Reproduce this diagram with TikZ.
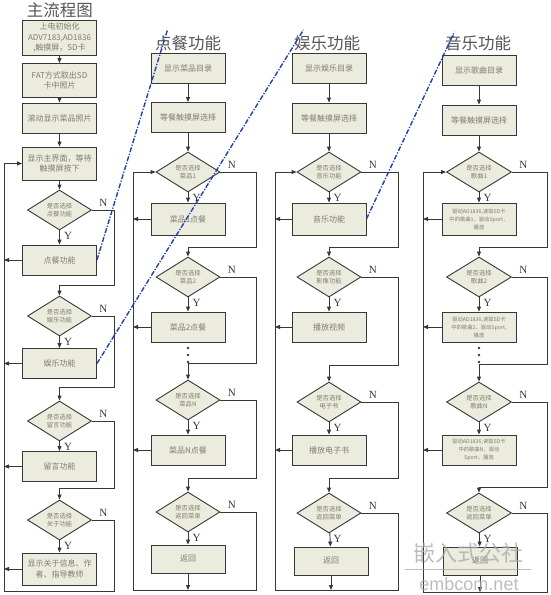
\documentclass[tikz,border=0pt]{standalone}
\usepackage{fontspec}
\setmainfont{Noto Sans CJK SC}
\newfontfamily\ynfont{Liberation Serif}
\newfontfamily\wmfont{Liberation Sans}
\usepackage{tikz}
\usetikzlibrary{arrows.meta,positioning,shapes.geometric}
\definecolor{bf}{RGB}{236,236,222}
\definecolor{lc}{RGB}{55,55,55}
\definecolor{tc}{RGB}{125,125,112}
\definecolor{lk}{RGB}{35,65,170}
\begin{document}
\begin{tikzpicture}[x=1pt, y=-1pt,
  box/.style={draw=lc, fill=bf, line width=0.9pt, minimum width=74pt, minimum height=30pt,
    align=center, inner sep=2pt, text=tc, font=\fontsize{8}{10.5}\selectfont},
  small/.style={box, minimum height=32pt, font=\fontsize{5.3}{8}\selectfont},
  dia/.style={diamond, draw=lc, fill=bf, line width=0.9pt, minimum width=64pt, minimum height=40pt,
    aspect=1.6, inner sep=0pt, align=center, text=tc, font=\fontsize{6.3}{8.5}\selectfont},
  ttl/.style={text=lc!85, font=\fontsize{16.5}{18}\selectfont},
  yn/.style={text=lc, font=\ynfont\fontsize{11}{11}\selectfont},
  arr/.style={draw=lc, line width=0.9pt, -{Triangle[length=5pt,width=4pt]}},
  ln/.style={draw=lc, line width=0.9pt},
  link/.style={draw=lk, line width=1.4pt, dash pattern=on 5pt off 1.6pt on 1.2pt off 1.6pt},
  wm/.style={text=gray!70, opacity=0.75}]
\useasboundingbox (0,0) rectangle (550,595);
% main flow
\node[ttl] (t1) at (60,10) {主流程图};
\node[box, minimum height=35pt] (m1) at (59.5,37.5) {上电初始化\\ADV7183,AD1836\\,触摸屏，SD卡};
\node[box, minimum height=34pt] (m2) at (59.5,80.5) {FAT方式取出SD\\卡中照片};
\node[box] (m3) at (59.5,118) {滚动显示菜品照片};
\node[box, minimum height=33pt] (m4) at (59.5,163.5) {显示主界面，等待\\触摸屏按下};
\node[dia] (md1) at (59.5,210) {是否选择\\点餐功能};
\node[box] (mb1) at (59.5,260) {点餐功能};
\node[dia] (md2) at (59.5,316) {是否选择\\娱乐功能};
\node[box] (mb2) at (59.5,363.5) {娱乐功能};
\node[dia] (md3) at (59.5,421) {是否选择\\留言功能};
\node[box] (mb3) at (59.5,466.5) {留言功能};
\node[dia] (md4) at (59.5,520) {是否选择\\关于功能};
\node[box, minimum height=32pt] (mb4) at (59.5,569) {显示关于信息、作\\者、指导教师};
\coordinate (mL) at (4,0); \coordinate (mR) at (114,0);
\coordinate (mj1) at (59.5,285); \coordinate (mj2) at (59.5,387);
\coordinate (mj3) at (59.5,488); \coordinate (mj4) at (59.5,591);
\draw[arr] (m1)--(m2); \draw[arr] (m2)--(m3); \draw[arr] (m3)--(m4); \draw[arr] (m4)--(md1);
\draw[arr] (md1)--(mb1); \draw[arr] (md2)--(mb2); \draw[arr] (md3)--(mb3); \draw[arr] (md4)--(mb4);
\draw[arr] (md1.east) -| (mR |- mj1) -- (mj1) -- (md2.north);
\draw[arr] (md2.east) -| (mR |- mj2) -- (mj2) -- (md3.north);
\draw[arr] (md3.east) -| (mR |- mj3) -- (mj3) -- (md4.north);
\draw[arr] (md4.east) -| (mR |- mj4) -- (mL |- mj4) -- (mL |- m4.west) -- (m4.west);
\foreach \b in {mb1,mb2,mb3,mb4} \draw[arr] (\b.west) -- (mL |- \b.west);
\foreach \d in {md1,md2,md3,md4} {
  \node[yn] at ([xshift=8.5pt,yshift=-5.5pt]\d.south) {Y};
  \node[yn] at ([xshift=11.5pt,yshift=7pt]\d.east) {N};
}
% ordering
\node[ttl] (t2) at (188,43) {点餐功能};
\node[box] (c1) at (188,68) {显示菜品目录};
\node[box] (c2) at (188,117.5) {等餐触摸屏选择};
\node[dia] (cd1) at (188,172) {是否选择\\菜品1};
\node[box, minimum height=32pt] (cb1) at (188,219) {菜品1点餐};
\node[dia] (cd2) at (188,277) {是否选择\\菜品2};
\node[box] (cb2) at (188,327) {菜品2点餐};
\node[dia] (cd3) at (188,400) {是否选择\\菜品N};
\node[box] (cb3) at (188,450) {菜品N点餐};
\node[dia] (cd4) at (188,512) {是否选择\\返回菜单};
\node[box, minimum height=28pt] (cb4) at (188,559) {返回};
\coordinate (cL) at (133,0); \coordinate (cR) at (256,0);
\coordinate (cj1) at (188,247); \coordinate (cj2) at (188,363);
\coordinate (cj3) at (188,478); \coordinate (cbot) at (188,590);
\draw[arr] (c1)--(c2); \draw[arr] (c2)--(cd1);
\draw[arr] (cd1)--(cb1); \draw[arr] (cd2)--(cb2); \draw[arr] (cd3)--(cb3); \draw[arr] (cd4)--(cb4);
\draw[arr] (cd1.east) -| (cR |- cj1) -- (cj1) -- (cd2.north);
\draw[arr] (cd2.east) -| (cR |- cj2) -- (cj2) -- (cd3.north);
\draw[arr] (cd3.east) -| (cR |- cj3) -- (cj3) -- (cd4.north);
\draw[arr] (cd4.east) -| (cR |- cbot) -- (cL |- cbot) -- (cL |- cd1.west) -- (cd1.west);
\draw[arr] (cb4) -- (cbot);
\foreach \b in {cb1,cb2,cb3} \draw[arr] (\b.west) -- (cL |- \b.west);
\foreach \y in {348,355,362} \fill[lc] (188,\y) circle (1.3pt);
\foreach \d in {cd1,cd2,cd3,cd4} {
  \node[yn] at ([xshift=8.5pt,yshift=-5.5pt]\d.south) {Y};
  \node[yn] at ([xshift=11.5pt,yshift=7pt]\d.east) {N};
}
% entertainment
\node[ttl] (t3) at (327,43) {娱乐功能};
\node[box] (e1) at (329,68) {显示娱乐目录};
\node[box] (e2) at (329,118) {等餐触摸屏选择};
\node[dia] (ed1) at (329,172) {是否选择\\音乐功能};
\node[box, minimum height=32pt] (eb1) at (329,219) {音乐功能};
\node[dia] (ed2) at (329,277) {是否选择\\影像功能};
\node[box] (eb2) at (329,327) {播放视频};
\node[dia] (ed3) at (329,402) {是否选择\\电子书};
\node[box] (eb3) at (329,450) {播放电子书};
\node[dia] (ed4) at (329,513) {是否选择\\返回菜单};
\node[box, minimum height=28pt] (eb4) at (331,561) {返回};
\coordinate (eL) at (275,0); \coordinate (eR) at (398,0);
\coordinate (ej1) at (329,247); \coordinate (ej2) at (329,365);
\coordinate (ej3) at (329,478); \coordinate (ebot) at (331,590);
\draw[arr] (e1)--(e2); \draw[arr] (e2)--(ed1);
\draw[arr] (ed1)--(eb1); \draw[arr] (ed2)--(eb2); \draw[arr] (ed3)--(eb3); \draw[arr] (ed4)--(eb4);
\draw[arr] (ed1.east) -| (eR |- ej1) -- (ej1) -- (ed2.north);
\draw[arr] (ed2.east) -| (eR |- ej2) -- (ej2) -- (ed3.north);
\draw[arr] (ed3.east) -| (eR |- ej3) -- (ej3) -- (ed4.north);
\draw[arr] (ed4.east) -| (eR |- ebot) -- (eL |- ebot) -- (eL |- ed1.west) -- (ed1.west);
\draw[arr] (eb4) -- (ebot);
\foreach \b in {eb1,eb2,eb3} \draw[arr] (\b.west) -- (eL |- \b.west);
\foreach \d in {ed1,ed2,ed3,ed4} {
  \node[yn] at ([xshift=8.5pt,yshift=-5.5pt]\d.south) {Y};
  \node[yn] at ([xshift=11.5pt,yshift=7pt]\d.east) {N};
}
% music
\node[ttl] (t4) at (478,43) {音乐功能};
\node[box] (s1) at (479,70) {显示歌曲目录};
\node[box] (s2) at (479,120) {等餐触摸屏选择};
\node[dia, minimum width=65pt] (sd1) at (479,172) {是否选择\\歌曲1};
\node[small] (sb1) at (479,219) {驱动AD1836,读取SD卡\\中的歌曲1，驱动Sport，\\播放};
\node[dia, minimum width=65pt] (sd2) at (479,277) {是否选择\\歌曲2};
\node[small, minimum height=30pt] (sb2) at (479,327) {驱动AD1836,读取SD卡\\中的歌曲2，驱动Sport,\\播放};
\node[dia, minimum width=65pt] (sd3) at (479,402) {是否选择\\歌曲N};
\node[small, minimum height=30pt] (sb3) at (479,450) {驱动AD1836,读取SD卡\\中的歌曲N，驱动\\Sport，播放};
\node[dia, minimum width=65pt] (sd4) at (479,513) {是否选择\\返回菜单};
\node[box, minimum height=28pt] (sb4) at (480,561) {返回};
\coordinate (sL) at (423,0); \coordinate (sR) at (547,0);
\coordinate (sj1) at (479,247); \coordinate (sj2) at (479,364);
\coordinate (sj3) at (479,487); \coordinate (sbot) at (480,592);
\draw[arr] (s1)--(s2); \draw[arr] (s2)--(sd1);
\draw[arr] (sd1)--(sb1); \draw[arr] (sd2)--(sb2); \draw[arr] (sd3)--(sb3); \draw[arr] (sd4)--(sb4);
\draw[arr] (sd1.east) -| (sR |- sj1) -- (sj1) -- (sd2.north);
\draw[arr] (sd2.east) -| (sR |- sj2) -- (sj2) -- (sd3.north);
\draw[arr] (sd3.east) -| (sR |- sj3) -- (sj3) -- (sd4.north);
\draw[arr] (sd4.east) -| (sR |- sbot) -- (sL |- sbot) -- (sL |- sd1.west) -- (sd1.west);
\draw[arr] (sb4) -- (sbot);
\foreach \b in {sb1,sb2,sb3} \draw[arr] (\b.west) -- (sL |- \b.west);
\foreach \y in {348,355,362} \fill[lc] (479,\y) circle (1.3pt);
\foreach \d in {sd1,sd2,sd3,sd4} {
  \node[yn] at ([xshift=8.5pt,yshift=-5.5pt]\d.south) {Y};
  \node[yn] at ([xshift=11.5pt,yshift=7pt]\d.east) {N};
}
% links to the sub flows
\draw[link] (mb1.east) -- ([xshift=16pt,yshift=2pt]t2.north west);
\draw[link] (mb2.east) -- ([xshift=13pt,yshift=2pt]t3.north west);
\draw[link] (eb1.east) -- ([xshift=13pt]t4.north west);
% watermark
\node[wm, font=\fontsize{22}{22}\selectfont] (wm1) at (468,553) {嵌入式公社};
\draw[wm, line width=1pt, draw=gray!70] ([xshift=-4pt,yshift=-3pt]wm1.south west) -- ([xshift=4pt,yshift=-3pt]wm1.south east);
\node[wm, font=\wmfont\fontsize{18}{18}\selectfont] (wm2) at (469,584) {embcom.net};
\end{tikzpicture}
\end{document}
